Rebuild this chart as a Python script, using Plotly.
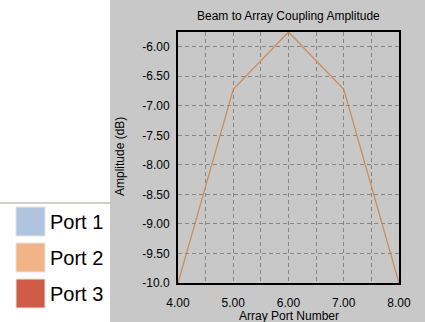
import plotly.graph_objects as go

# ---- data ----
port_numbers = [4.0, 5.0, 6.0, 7.0, 8.0]
port2_amplitude = [-10.0, -6.72, -5.75, -6.72, -10.0]

x_tick_vals = [4.0, 4.5, 5.0, 5.5, 6.0, 6.5, 7.0, 7.5, 8.0]
x_tick_text = ["4.00", "", "5.00", "", "6.00", "", "7.00", "", "8.00"]
y_tick_vals = [-6.0, -6.5, -7.0, -7.5, -8.0, -8.5, -9.0, -9.5, -10.0]
y_tick_text = ["-6.00", "-6.50", "-7.00", "-7.50", "-8.00", "-8.50", "-9.00", "-9.50", "-10.0"]

legend_names = ["Port 1", "Port 2", "Port 3"]
legend_colors = ["#b0c4de", "#f0b487", "#d05c48"]

W, H = 425, 322
FONT = "Liberation Sans, Arial, sans-serif"

def px(x):
    return x / W

def py(y):
    return 1 - y / H

fig = go.Figure()
fig.add_trace(go.Scatter(
    x=port_numbers, y=port2_amplitude, mode="lines",
    line=dict(color="#cd8c5a", width=1.3), name="Port 2", showlegend=False,
    cliponaxis=False, hoverinfo="skip",
))

shapes = [
    dict(type="rect", xref="paper", yref="paper", x0=px(110), x1=1.0, y0=0, y1=1,
         fillcolor="#c8c8c8", line=dict(width=0), layer="below"),
    dict(type="line", xref="paper", yref="paper", x0=0, x1=px(110), y0=py(203), y1=py(203),
         line=dict(color="#d4d0c8", width=2)),
]
annotations = []
swatch_tops = [207, 243, 279]
for name, col, top in zip(legend_names, legend_colors, swatch_tops):
    shapes.append(dict(type="rect", xref="paper", yref="paper",
                       x0=px(16), x1=px(45), y0=py(top + 29), y1=py(top),
                       fillcolor=col, line=dict(color="#e6e6e6", width=1)))
    annotations.append(dict(text=name, xref="paper", yref="paper", x=px(48), y=py(top + 15),
                            xanchor="left", yanchor="middle", showarrow=False,
                            font=dict(family=FONT, size=20, color="#000000")))

annotations += [
    dict(text="Beam to Array Coupling Amplitude", xref="paper", yref="paper",
         x=px(288), y=py(16), xanchor="center", yanchor="middle", showarrow=False,
         font=dict(family=FONT, size=12, color="#000000")),
    dict(text="Amplitude (dB)", xref="paper", yref="paper", textangle=-90,
         x=px(120), y=py(157), xanchor="center", yanchor="middle", showarrow=False,
         font=dict(family=FONT, size=12, color="#000000")),
    dict(text="Array Port Number", xref="paper", yref="paper",
         x=px(289), y=py(316), xanchor="center", yanchor="middle", showarrow=False,
         font=dict(family=FONT, size=12, color="#000000")),
]

fig.update_layout(
    width=W, height=H, margin=dict(l=0, r=0, t=0, b=0, pad=0, autoexpand=False),
    paper_bgcolor="#ffffff", plot_bgcolor="#c8c8c8",
    showlegend=False, hovermode=False,
    shapes=shapes, annotations=annotations,
    xaxis=dict(domain=[px(178), px(399)], range=[4.0, 8.0], automargin=False,
               tickvals=x_tick_vals, ticktext=x_tick_text,
               showgrid=True, gridcolor="#858585", griddash="4px,3px", gridwidth=1,
               showline=True, linecolor="#000000", linewidth=2, mirror=True,
               zeroline=False, ticks="", ticklabelstandoff=8,
               tickfont=dict(family=FONT, size=12, color="#000000")),
    yaxis=dict(domain=[py(283), py(32)], range=[-10.0, -5.75], automargin=False,
               tickvals=y_tick_vals, ticktext=y_tick_text,
               showgrid=True, gridcolor="#858585", griddash="4px,3px", gridwidth=1,
               showline=True, linecolor="#000000", linewidth=2, mirror=True,
               zeroline=False, ticks="", ticklabelstandoff=4,
               tickfont=dict(family=FONT, size=12, color="#000000")),
)

fig.write_html(
    "out.html",
    config={"displayModeBar": False, "staticPlot": True},
    post_script="document.body.style.margin='0';document.body.style.padding='0';"
                "document.body.style.overflow='hidden';",
)
